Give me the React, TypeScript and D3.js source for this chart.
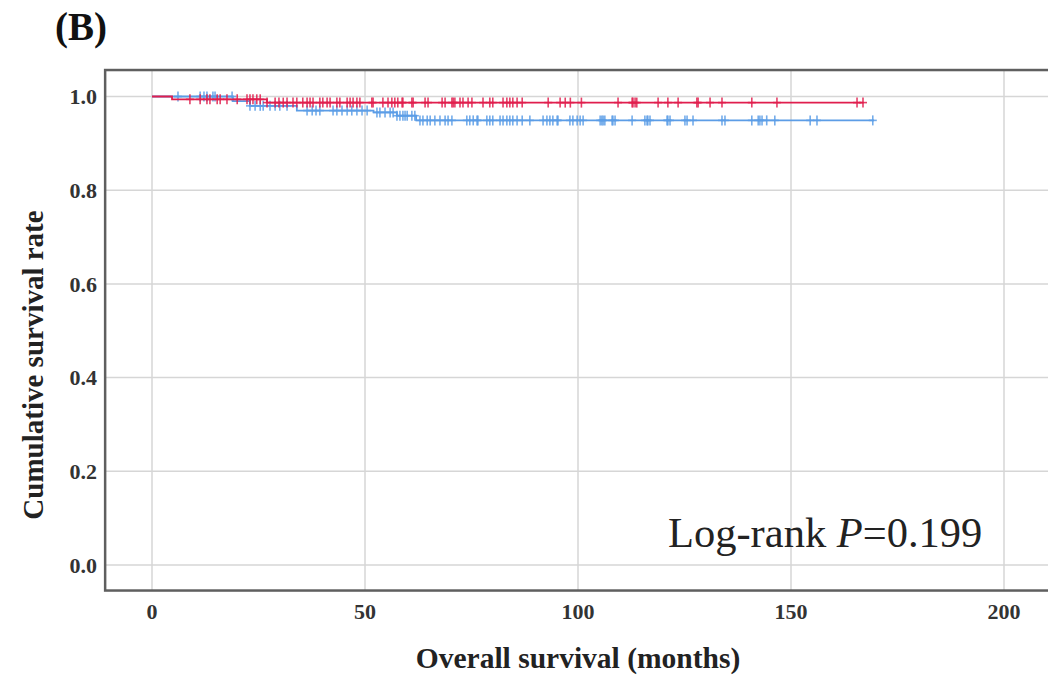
import React from "react";
import * as d3 from "d3";

// Kaplan–Meier step points: [month, cumulative survival]
const redSteps: [number, number][] = [
  [0, 1.0],
  [4.7, 0.994],
  [27, 0.987],
];
const redEnd = 167;

const blueSteps: [number, number][] = [
  [0, 1.0],
  [19, 0.99],
  [23, 0.98],
  [34, 0.97],
  [52, 0.966],
  [57.5, 0.959],
  [62, 0.949],
];
const blueEnd = 169.5;

// Censored observations (months)
const redCensored: number[] = [
  8.9, 11.3, 12.9, 13.6, 15.3, 16.0, 17.6, 20.0, 22.3, 23.0, 23.7, 24.6, 25.4, 27.0, 28.9,
  29.8, 30.8, 31.7, 33.1, 34.0, 35.4, 36.4, 37.1, 37.8, 39.4, 40.1, 41.1, 41.8, 43.4, 44.1,
  45.8, 46.5, 47.2, 48.1, 48.8, 51.6, 51.9, 54.2, 55.4, 56.3, 57.0, 57.7, 58.7, 58.9, 61.0,
  61.3, 64.1, 64.8, 68.1, 68.8, 70.4, 70.7, 71.1, 72.3, 73.0, 74.2, 75.1, 77.7, 79.3, 80.0,
  82.4, 83.3, 84.0, 84.7, 85.7, 86.9, 93.0, 95.8, 97.0, 98.2, 100.8, 109.4, 112.7, 112.9,
  113.4, 113.8, 118.8, 121.1, 123.5, 127.9, 128.2, 131.0, 133.8, 140.8, 146.7, 165.5, 166.9,
];
const blueCensored: number[] = [
  6.1, 11.3, 12.2, 12.9, 14.3, 14.8, 18.8, 23.0, 24.2, 25.4, 26.1, 27.7, 28.9, 30.0, 31.7,
  36.4, 37.6, 38.5, 39.4, 42.5, 43.4, 44.6, 45.8, 46.9, 48.1, 49.3, 50.5, 52.8, 53.5, 54.7,
  55.9, 56.6, 57.5, 58.2, 58.9, 59.4, 59.9, 61.0, 61.7, 62.9, 63.6, 64.6, 65.3, 66.4, 67.6,
  68.8, 69.5, 70.4, 73.9, 74.6, 75.4, 76.3, 76.5, 78.6, 79.3, 80.0, 81.7, 82.4, 83.3, 84.0,
  84.7, 85.7, 86.9, 88.7, 91.8, 92.7, 93.4, 94.1, 95.1, 95.3, 98.1, 98.8, 99.8, 100.5, 101.2,
  105.2, 105.6, 105.9, 106.3, 108.0, 108.2, 108.7, 112.7, 115.7, 116.2, 116.4, 116.9, 120.9,
  121.1, 121.6, 125.1, 125.6, 127.0, 133.8, 134.5, 140.8, 142.3, 142.7, 143.2, 144.3, 146.2,
  154.5, 156.1, 169.2,
];

const xTicks = [0, 50, 100, 150, 200];
const yTicks = [0, 0.2, 0.4, 0.6, 0.8, 1.0];

const RED = "#e01e4e";
const BLUE = "#5c9de6";
const FONT = "'Liberation Serif', 'Times New Roman', serif";

const W = 1048;
const H = 677;

// full visible domain of the framed panel
const xFrame: [number, number] = [-11, 211.5];
const yFrame: [number, number] = [-0.0545, 1.0565];

const x = d3.scaleLinear().domain([0, 200]).range([152, 1004]);
const y = d3.scaleLinear().domain([0, 1]).range([565, 96.5]);

function survivalAt(steps: [number, number][], t: number): number {
  let s = steps[0][1];
  for (const [tm, v] of steps) if (tm <= t) s = v;
  return s;
}

function stepPath(steps: [number, number][], end: number): string {
  const pts: [number, number][] = [...steps, [end, steps[steps.length - 1][1]]];
  const line = d3
    .line<[number, number]>()
    .x((d) => x(d[0]))
    .y((d) => y(d[1]))
    .curve(d3.curveStepAfter);
  return line(pts) || "";
}

function Censors({ times, steps, color }: { times: number[]; steps: [number, number][]; color: string }) {
  return (
    <g stroke={color} strokeWidth={1.6} strokeOpacity={0.85}>
      {times.map((t, i) => {
        const cx = x(t);
        const cy = y(survivalAt(steps, t));
        return (
          <g key={i}>
            <line x1={cx} x2={cx} y1={cy - 5} y2={cy + 5} />
            <line x1={cx - 4} x2={cx + 4} y1={cy} y2={cy} />
          </g>
        );
      })}
    </g>
  );
}

export default function App() {
  const fx0 = x(xFrame[0]);
  const fx1 = x(xFrame[1]);
  const fy0 = y(yFrame[1]);
  const fy1 = y(yFrame[0]);
  return (
    <svg
      width={W}
      height={H}
      style={{ position: "absolute", left: 0, top: 0, background: "#fff" }}
      fontFamily={FONT}
    >
      <text x={55} y={40} fontSize={39} fontWeight="bold" fill="#111">
        (B)
      </text>

      {/* grid */}
      <g stroke="#d6d6d6" strokeWidth={1.5}>
        {xTicks.map((t) => (
          <line key={"gx" + t} x1={x(t)} x2={x(t)} y1={fy0} y2={fy1} />
        ))}
        {yTicks.map((t) => (
          <line key={"gy" + t} x1={fx0} x2={fx1} y1={y(t)} y2={y(t)} />
        ))}
      </g>

      {/* survival curves */}
      <path d={stepPath(blueSteps, blueEnd)} fill="none" stroke={BLUE} strokeWidth={1.8} />
      <Censors times={blueCensored} steps={blueSteps} color={BLUE} />
      <path d={stepPath(redSteps, redEnd)} fill="none" stroke={RED} strokeWidth={1.8} />
      <Censors times={redCensored} steps={redSteps} color={RED} />

      {/* frame */}
      <rect x={fx0} y={fy0} width={fx1 - fx0} height={fy1 - fy0} fill="none" stroke="#5f5f5f" strokeWidth={2.5} />

      {/* tick labels */}
      <g fontSize={22} fontWeight="bold" fill="#333">
        {yTicks.map((t) => (
          <text key={"ly" + t} x={97} y={y(t)} dy="0.35em" textAnchor="end">
            {d3.format(".1f")(t)}
          </text>
        ))}
        {xTicks.map((t) => (
          <text key={"lx" + t} x={x(t)} y={619} textAnchor="middle">
            {t}
          </text>
        ))}
      </g>

      <text x={578} y={668} fontSize={29.5} fontWeight="bold" fill="#222" textAnchor="middle">
        Overall survival (months)
      </text>
      <text
        transform="translate(43,365) rotate(-90)"
        fontSize={29}
        fontWeight="bold"
        fill="#222"
        textAnchor="middle"
      >
        Cumulative survival rate
      </text>

      <text x={668} y={547} fontSize={42.5} fill="#222">
        Log-rank <tspan fontStyle="italic">P</tspan>=0.199
      </text>
    </svg>
  );
}
